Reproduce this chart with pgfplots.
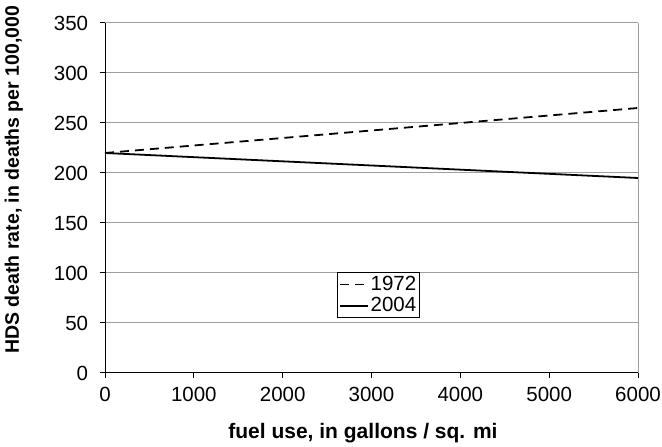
\documentclass[border=0pt]{standalone}
\usepackage{fontspec}
\setmainfont{Liberation Sans}
\usepackage{pgfplots}
\pgfplotsset{compat=1.18}
\begin{document}
\fontsize{20bp}{24bp}\selectfont
\begin{tikzpicture}[x=1bp,y=1bp]
\useasboundingbox (-105,-74) rectangle (557,373);
\begin{axis}[
  at={(0,0)}, anchor=south west,
  scale only axis,
  width=533bp, height=350bp,
  xmin=0, xmax=6000, ymin=0, ymax=350,
  xtick={0,1000,...,6000}, ytick={0,50,...,350},
  axis x line=bottom, axis y line=left,
  axis line style={black, line width=1pt, -},
  ymajorgrids, grid style={gray!75, line width=1pt},
  extra x ticks={6000}, extra x tick labels={},
  extra x tick style={grid=major, major tick length=0pt},
  tick style={black, line width=1pt},
  tick align=outside, major tick length=5bp,
  /pgf/number format/assume math mode=true,
  /pgf/number format/1000 sep={},
  ticklabel style={font=\fontsize{20.5bp}{24bp}\selectfont},
  xticklabel style={yshift=-2bp},
  yticklabel style={xshift=-5bp},
  xlabel={\textbf{fuel use, in gallons / sq. mi}},
  ylabel={\textbf{HDS death rate, in deaths per 100,000}},
  xlabel style={font=\fontsize{21bp}{24bp}\selectfont, at={(axis description cs:0.484,-0.171)}, anchor=center},
  ylabel style={font=\fontsize{19.5bp}{23bp}\selectfont, at={(axis description cs:-0.171,0.552)}, anchor=center},
  legend style={at={(0.435,0.289)}, anchor=north west, draw=black, line width=1pt,
    font=\fontsize{20.5bp}{22bp}\selectfont, inner xsep=2bp, inner ysep=2bp,
    nodes={inner sep=1.5bp}, row sep=1bp},
  legend cell align=left,
  legend image code/.code={\draw[#1] (0bp,0bp) -- (28bp,0bp);},
  clip=false,
]
\addplot[black, line width=1.8pt, dash pattern=on 9bp off 6bp] coordinates {(0,220) (6000,265)};
\addlegendentry{1972}
\addplot[black, line width=1.8pt] coordinates {(0,220) (6000,195)};
\addlegendentry{2004}
\end{axis}
\end{tikzpicture}
\end{document}
